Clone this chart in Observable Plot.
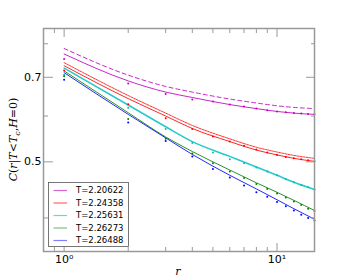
<!DOCTYPE html>
<html>
<head>
<meta charset="utf-8">
<script src="https://cdn.jsdelivr.net/npm/d3@7"></script>
<script src="https://cdn.jsdelivr.net/npm/@observablehq/plot@0.6"></script>
<style>
  html, body { margin: 0; padding: 0; background: #fff; }
  #chart { width: 350px; height: 280px; }
</style>
</head>
<body>
<div id="chart"></div>
<script>
// ---- data ----
const temps = ["T=2.20622", "T=2.24358", "T=2.25631", "T=2.26273", "T=2.26488"];
const colors = ["#bf00bf", "#ff0000", "#00bfbf", "#008000", "#0000ff"];
const legendColors = ["#d466d4", "#ff6666", "#66d6d6", "#80bf80", "#8080ff"];

const rFit = [1, 2, 3, 4, 6, 8, 10, 12, 15];
const fitMagenta = [0.768, 0.690, 0.660, 0.646, 0.628, 0.618, 0.611, 0.607, 0.604];
const fitRed     = [0.733, 0.643, 0.600, 0.571, 0.542, 0.524, 0.514, 0.507, 0.501];
const fitCyan    = [0.726, 0.627, 0.575, 0.542, 0.511, 0.490, 0.474, 0.461, 0.448];
const fitGreen   = [0.718, 0.608, 0.552, 0.521, 0.484, 0.460, 0.443, 0.429, 0.412];
const fitBlue    = [0.713, 0.604, 0.550, 0.515, 0.474, 0.449, 0.430, 0.415, 0.398];
const dashMagenta = [0.785, 0.706, 0.675, 0.660, 0.642, 0.632, 0.625, 0.621, 0.618];
const dashRed     = [0.742, 0.651, 0.607, 0.578, 0.548, 0.530, 0.520, 0.513, 0.507];

const rDots = [1, 2, 3, 4, 5, 6, 7, 8, 9, 10, 11, 12, 13, 14, 15];
const dotMagenta = [0.753,0.683,0.655,0.641,0.636,0.628,0.623,0.618,0.614,0.611,0.609,0.607,0.606,0.605,0.604];
const dotRed     = [0.719,0.629,0.595,0.570,0.553,0.542,0.533,0.525,0.519,0.514,0.510,0.507,0.505,0.503,0.501];
const dotCyan    = [0.707,0.620,0.570,0.539,0.519,0.505,0.497,0.489,0.481,0.474,0.467,0.461,0.456,0.452,0.448];
const dotGreen   = [0.703,0.593,0.548,0.517,0.497,0.481,0.469,0.458,0.449,0.441,0.434,0.427,0.421,0.415,0.411];
const dotBlue    = [0.693,0.585,0.543,0.511,0.486,0.470,0.455,0.443,0.435,0.426,0.419,0.412,0.405,0.400,0.396];

const xMajor = [1, 10];
const xMinor = [0.9, 2, 3, 4, 5, 6, 7, 8, 9];
const yMajor = [0.5, 0.7];
const yMinor = [0.4, 0.6, 0.8];
const xTickLabels = {1: "10⁰", 10: "10¹"};

// ---- build tables ----
const fits = [fitMagenta, fitRed, fitCyan, fitGreen, fitBlue];
const dots = [dotMagenta, dotRed, dotCyan, dotGreen, dotBlue];
const fitRows = [];
fits.forEach((s, i) => s.forEach((v, j) => fitRows.push({r: rFit[j], v, k: i})));
const dotRows = [];
dots.forEach((s, i) => s.forEach((v, j) => dotRows.push({r: rDots[j], v, k: i})));
const dashRows = [];
[[dashMagenta, 0], [dashRed, 1]].forEach(([s, i]) => s.forEach((v, j) => dashRows.push({r: rFit[j], v, k: i})));

const grey = "#999";
const font = "DejaVu Sans, sans-serif";

const plot = Plot.plot({
  width: 350,
  height: 280,
  marginLeft: 43,
  marginRight: 36,
  marginTop: 28,
  marginBottom: 29,
  style: {fontFamily: font, fontSize: "11px", background: "#fff", color: "#000"},
  x: {type: "log", domain: [0.8, 15]},
  y: {type: "log", domain: [0.35, 0.85]},
  marks: [
    // dashed (upper) curves
    Plot.line(dashRows.filter(d => d.k === 0), {x: "r", y: "v", stroke: colors[0], strokeWidth: 1, strokeOpacity: 0.85,
      strokeDasharray: "4,3", curve: "monotone-x"}),
    Plot.line(dashRows.filter(d => d.k === 1), {x: "r", y: "v", stroke: colors[1], strokeWidth: 1, strokeOpacity: 0.8,
      strokeDasharray: "2,1", curve: "monotone-x"}),
    // fit curves
    Plot.line(fitRows, {x: "r", y: "v", z: "k", stroke: d => colors[d.k], strokeWidth: d => d.k === 2 ? 1.5 : 1, strokeOpacity: 0.85, curve: "monotone-x"}),
    // data points
    Plot.dot(dotRows, {x: "r", y: "v", fill: d => colors[d.k], r: 1, stroke: "none"}),
    // frame
    Plot.frame({stroke: grey, strokeWidth: 1.5}),
    // x ticks (inward)
    Plot.axisX({anchor: "bottom", ticks: xMajor, tickSize: -8, stroke: grey, tickFormat: d => xTickLabels[d], tickPadding: 12, fontSize: 11, label: null}),
    Plot.axisX({anchor: "bottom", ticks: xMinor, tickSize: -4, stroke: grey, tickFormat: () => "", label: null}),
    Plot.axisX({anchor: "top", ticks: xMajor, tickSize: -8, stroke: grey, tickFormat: () => "", label: null}),
    Plot.axisX({anchor: "top", ticks: xMinor, tickSize: -4, stroke: grey, tickFormat: () => "", label: null}),
    // y ticks (inward)
    Plot.axisY({anchor: "left", ticks: yMajor, tickSize: -10, stroke: grey, tickFormat: d => d.toFixed(1), tickPadding: 12, fontSize: 11, label: null}),
    Plot.axisY({anchor: "left", ticks: yMinor, tickSize: -5, stroke: grey, tickFormat: () => "", label: null}),
    Plot.axisY({anchor: "right", ticks: yMajor, tickSize: -9, stroke: grey, tickFormat: () => "", label: null}),
    Plot.axisY({anchor: "right", ticks: yMinor, tickSize: -4, stroke: grey, tickFormat: () => "", label: null})
  ]
});

document.getElementById("chart").appendChild(plot);

// ---- labels and legend ----
const svg = d3.select(plot);
const serif = "DejaVu Serif, serif";

// y label
const yl = svg.append("text")
  .attr("transform", "translate(17,139.5) rotate(-90)")
  .attr("text-anchor", "middle")
  .attr("font-family", serif)
  .attr("font-size", 11)
  .attr("fill", "#000");
const parts = [["C", true], ["(", false], ["r", true], ["|", false], ["T", true], ["<", false], ["T", true]];
parts.forEach(([t, it]) => yl.append("tspan").attr("font-style", it ? "italic" : "normal").text(t));
yl.append("tspan").attr("font-style", "italic").attr("font-size", 8).attr("dy", 2.5).text("c");
yl.append("tspan").attr("dy", -2.5).text(",");
yl.append("tspan").attr("font-style", "italic").text("H");
yl.append("tspan").text("=0)");

// x label
svg.append("text")
  .attr("x", 178).attr("y", 275)
  .attr("text-anchor", "middle")
  .attr("font-family", serif)
  .attr("font-style", "italic")
  .attr("font-size", 11)
  .attr("fill", "#000")
  .text("r");

// legend
const lg = svg.append("g").attr("transform", "translate(48.5,182.5)");
lg.append("rect").attr("width", 80).attr("height", 64)
  .attr("fill", "#fff").attr("stroke", "#555").attr("stroke-width", 0.8);
temps.forEach((t, i) => {
  const y = 8 + i * 12.5;
  lg.append("line").attr("x1", 5).attr("x2", 18.5).attr("y1", y).attr("y2", y)
    .attr("stroke", legendColors[i]).attr("stroke-width", 1.2);
  lg.append("text").attr("x", 27.5).attr("y", y).attr("dy", "0.35em")
    .attr("text-anchor", "start")
    .attr("font-family", font).attr("font-size", 8.5).attr("fill", "#000").text(t);
});
</script>
</body>
</html>
